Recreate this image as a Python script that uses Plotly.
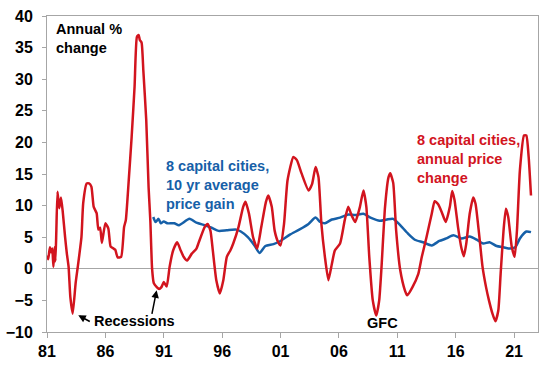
import plotly.graph_objects as go

# Red: 8 capital cities, annual price change (year, %)
red_years = [1981.0, 1981.1, 1981.25, 1981.35, 1981.45, 1981.55, 1981.65, 1981.72, 1981.8, 1981.9,
             1982.05, 1982.2, 1982.35, 1982.55, 1982.7, 1982.85, 1983.0, 1983.2, 1983.45, 1983.65,
             1983.95, 1984.1, 1984.4, 1984.6, 1984.8, 1985.0, 1985.25, 1985.4, 1985.55, 1985.7,
             1986.0, 1986.25, 1986.45, 1986.7, 1986.85, 1987.05, 1987.35, 1987.6, 1987.75, 1988.0,
             1988.25, 1988.5, 1988.7, 1988.85, 1988.95, 1989.1, 1989.25, 1989.5, 1989.7, 1989.85,
             1990.0, 1990.15, 1990.4, 1990.6, 1990.8, 1991.0, 1991.25, 1991.5, 1991.8, 1992.15,
             1992.45, 1992.7, 1993.0, 1993.4, 1993.8, 1994.0, 1994.5, 1994.75, 1995.0, 1995.2,
             1995.5, 1995.8, 1996.1, 1996.4, 1996.7, 1996.95, 1997.4, 1997.8, 1998.0, 1998.3,
             1998.65, 1999.0, 1999.35, 1999.75, 1999.95, 2000.25, 2000.5, 2000.8, 2001.0, 2001.3,
             2001.6, 2002.1, 2002.4, 2002.8, 2003.4, 2003.7, 2004.0, 2004.25, 2004.5, 2004.8,
             2005.1, 2005.4, 2005.65, 2006.1, 2006.5, 2006.8, 2007.1, 2007.4, 2007.8, 2008.1,
             2008.35, 2008.6, 2008.9, 2009.2, 2009.45, 2009.65, 2009.95, 2010.25, 2010.4, 2010.65,
             2010.9, 2011.25, 2011.65, 2011.85, 2012.3, 2012.8, 2013.1, 2013.5, 2013.95, 2014.2,
             2014.5, 2014.8, 2015.15, 2015.5, 2015.7, 2015.9, 2016.2, 2016.5, 2016.7, 2016.9,
             2017.2, 2017.5, 2017.7, 2018.0, 2018.3, 2018.6, 2018.85, 2019.15, 2019.4, 2019.65,
             2019.85, 2020.1, 2020.3, 2020.5, 2020.8, 2021.05, 2021.25, 2021.5, 2021.85, 2022.05,
             2022.25, 2022.45]
red_values = [2.1, 1.5, 3.4, 2.6, 3.2, 0.3, 3.4, 1.2, 6.0, 12.2,
              9.6, 11.3, 9.0, 5.0, 2.4, 0.3, -4.5, -7.1, -2.3, 0.5,
              5.0, 10.4, 13.5, 13.5, 13.0, 9.8, 8.8, 6.2, 6.5, 4.1,
              7.2, 6.4, 3.5, 3.2, 3.0, 1.8, 1.9, 6.6, 7.7, 14.0,
              20.9, 28.8, 36.7, 37.0, 36.2, 35.8, 31.4, 23.5, 12.9, 7.6,
              0.0, -2.3, -2.9, -3.2, -2.9, -2.1, -2.8, 0.3, 2.9, 4.2,
              2.9, 1.9, 1.3, 2.4, 3.2, 4.2, 6.6, 7.1, 6.0, 2.9,
              -1.8, -3.9, -1.8, 1.9, 2.9, 4.0, 6.6, 9.8, 10.6, 8.7,
              5.0, 3.2, 6.6, 10.6, 11.6, 9.8, 6.0, 4.2, 3.7, 7.1,
              14.0, 17.7, 17.2, 15.1, 12.4, 13.4, 16.1, 14.5, 7.1, 1.9,
              -1.8, 0.8, 2.9, 4.0, 7.7, 9.8, 8.4, 7.4, 9.8, 12.4,
              9.8, 1.9, -5.0, -7.4, -5.0, 0.3, 9.8, 14.5, 15.1, 13.6,
              6.1, -0.2, -3.4, -4.2, -2.9, -0.8, 1.9, 5.0, 8.7, 10.7,
              10.2, 9.0, 7.4, 9.8, 12.3, 10.9, 6.6, 3.2, 2.0, 3.9,
              8.7, 11.3, 10.3, 5.6, 0.3, -2.9, -5.0, -7.1, -8.3, -6.6,
              -0.8, 6.1, 9.5, 8.2, 3.5, 1.9, 6.1, 15.6, 21.1, 21.1,
              17.7, 11.6]

# Blue: 8 capital cities, 10 yr average price gain
blue_years = [1990.1, 1990.3, 1990.55, 1990.75, 1991.0, 1991.3, 1991.9, 1992.3, 1993.2, 1993.8,
              1994.5, 1995.1, 1995.7, 1996.4, 1997.2, 1997.6, 1998.2, 1998.8, 1999.2, 1999.7,
              2000.4, 2001.0, 2001.8, 2002.6, 2003.4, 2004.0, 2004.4, 2004.8, 2005.4, 2006.1,
              2006.8, 2007.4, 2008.1, 2008.7, 2009.5, 2010.1, 2010.65, 2011.2, 2011.9, 2012.5,
              2013.2, 2013.95, 2014.6, 2015.2, 2015.8, 2016.5, 2017.2, 2017.8, 2018.35, 2018.9,
              2019.5, 2020.1, 2020.65, 2021.1, 2021.5, 2022.05, 2022.45]
blue_values = [8.2, 7.4, 7.9, 7.2, 7.5, 7.2, 7.2, 6.9, 7.9, 7.3,
               6.9, 6.5, 6.0, 6.1, 6.2, 5.9, 5.0, 3.6, 2.5, 3.6,
               3.9, 4.4, 5.4, 6.2, 7.1, 8.1, 7.4, 7.2, 7.8, 8.1,
               8.6, 8.5, 8.7, 8.1, 7.6, 7.8, 7.9, 7.0, 5.6, 4.6,
               4.2, 3.7, 4.4, 4.8, 5.3, 4.8, 5.1, 4.6, 4.0, 4.2,
               3.6, 3.4, 3.2, 3.4, 4.8, 5.9, 5.8]

tick_years = [1981, 1986, 1991, 1996, 2001, 2006, 2011, 2016, 2021]
tick_labels = ["81", "86", "91", "96", "01", "06", "11", "16", "21"]

RED = "#D2141E"
BLUE = "#1660A8"
GREY = "#A6A6A6"
FONT = "Liberation Sans"

fig = go.Figure()
fig.add_trace(go.Scatter(x=blue_years, y=blue_values, mode="lines",
                         line=dict(color=BLUE, width=2.5, shape="spline", smoothing=0.6),
                         showlegend=False))
fig.add_trace(go.Scatter(x=red_years, y=red_values, mode="lines",
                         line=dict(color=RED, width=2.5, shape="spline", smoothing=0.5),
                         showlegend=False))

tf = dict(family=FONT, size=16, color="black", weight="bold")
af = dict(family=FONT, size=14.5, weight="bold")

fig.update_layout(
    width=548, height=366,
    margin=dict(l=47, r=10, t=16, b=34, autoexpand=False),
    paper_bgcolor="white", plot_bgcolor="white",
    xaxis=dict(range=[1981, 2023.05], tickvals=tick_years, ticktext=tick_labels,
               showline=True, linecolor=GREY, linewidth=1, mirror=True,
               ticks="outside", ticklen=5, tickcolor=GREY, showgrid=False,
               zeroline=False, tickfont=tf, automargin=False),
    yaxis=dict(range=[-10, 40], dtick=5, showline=True, linecolor=GREY, linewidth=1,
               mirror=True, ticks="outside", ticklen=4, tickcolor=GREY, showgrid=False,
               zeroline=True, zerolinecolor=GREY, zerolinewidth=1, tickfont=tf,
               automargin=False, ticklabelstandoff=6),
)

ann = [
    dict(x=1981.6, y=39.6, text="Annual %<br>change", xanchor="left", yanchor="top",
         align="left", font=dict(af, color="black")),
    dict(x=1991.0, y=13.3, text="8 capital cities,<br>10 yr average<br>price gain",
         xanchor="left", yanchor="middle", align="left", font=dict(af, color=BLUE)),
    dict(x=2012.5, y=17.3, text="8 capital cities,<br>annual price<br>change",
         xanchor="left", yanchor="middle", align="left", font=dict(af, color=RED)),
    dict(x=1988.5, y=-8.3, text="Recessions", xanchor="center", yanchor="middle",
         font=dict(af, color="black")),
    dict(x=2009.77, y=-8.6, text="GFC", xanchor="center", yanchor="middle",
         font=dict(af, color="black")),
    dict(x=1983.68, y=-7.36, text="", showarrow=True, ax=13, ay=7, arrowhead=2,
         arrowsize=1, arrowwidth=1.5, arrowcolor="black"),
    dict(x=1990.39, y=-3.4, text="", showarrow=True, ax=-5, ay=25, arrowhead=2,
         arrowsize=1, arrowwidth=1.5, arrowcolor="black"),
]
for a in ann:
    a.setdefault("showarrow", False)
    a["xref"] = "x"
    a["yref"] = "y"
    fig.add_annotation(**a)

fig.write_html("out.html", config={"displayModeBar": False},
               post_script="document.body.style.margin='0';document.body.style.padding='0';")
